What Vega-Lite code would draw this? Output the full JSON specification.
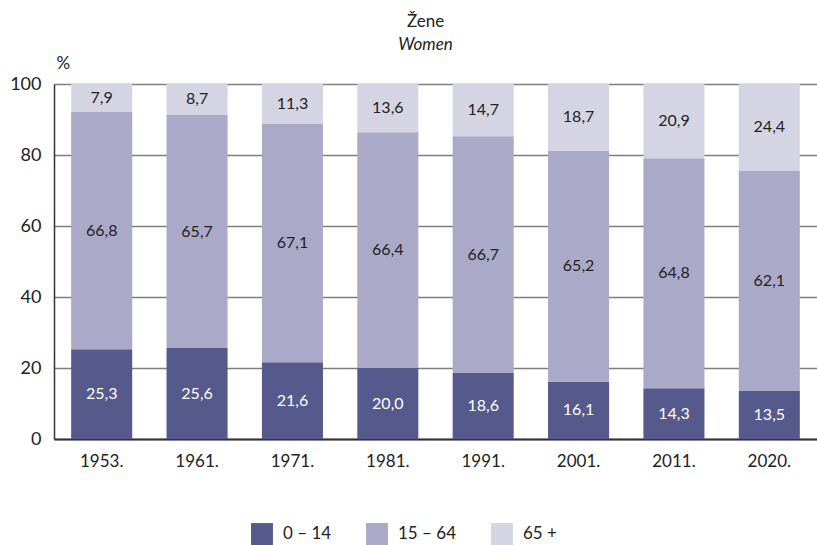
{
  "$schema": "https://vega.github.io/schema/vega-lite/v6.json",
  "autosize": "none",
  "width": 763,
  "height": 355,
  "padding": {"left": 54, "top": 84, "right": 0, "bottom": 106},
  "config": {
    "locale": {"number": {"decimal": ",", "thousands": ".", "grouping": [3], "currency": ["", " €"]}},
    "font": "Lato",
    "view": {"stroke": null}
  },
  "title": {
    "text": "Žene",
    "subtitle": "Women",
    "subtitleFontStyle": "italic",
    "fontSize": 17,
    "fontWeight": "normal",
    "subtitleFontSize": 17,
    "color": "#222",
    "subtitleColor": "#222",
    "subtitlePadding": 6,
    "anchor": "middle",
    "frame": "group",
    "dx": -10,
    "offset": 0
  },
  "data": {
    "values": [
      {"year": "1953.", "group": "0 – 14", "o": 1, "value": 25.3},
      {"year": "1953.", "group": "15 – 64", "o": 2, "value": 66.8},
      {"year": "1953.", "group": "65 +", "o": 3, "value": 7.9},
      {"year": "1961.", "group": "0 – 14", "o": 1, "value": 25.6},
      {"year": "1961.", "group": "15 – 64", "o": 2, "value": 65.7},
      {"year": "1961.", "group": "65 +", "o": 3, "value": 8.7},
      {"year": "1971.", "group": "0 – 14", "o": 1, "value": 21.6},
      {"year": "1971.", "group": "15 – 64", "o": 2, "value": 67.1},
      {"year": "1971.", "group": "65 +", "o": 3, "value": 11.3},
      {"year": "1981.", "group": "0 – 14", "o": 1, "value": 20.0},
      {"year": "1981.", "group": "15 – 64", "o": 2, "value": 66.4},
      {"year": "1981.", "group": "65 +", "o": 3, "value": 13.6},
      {"year": "1991.", "group": "0 – 14", "o": 1, "value": 18.6},
      {"year": "1991.", "group": "15 – 64", "o": 2, "value": 66.7},
      {"year": "1991.", "group": "65 +", "o": 3, "value": 14.7},
      {"year": "2001.", "group": "0 – 14", "o": 1, "value": 16.1},
      {"year": "2001.", "group": "15 – 64", "o": 2, "value": 65.2},
      {"year": "2001.", "group": "65 +", "o": 3, "value": 18.7},
      {"year": "2011.", "group": "0 – 14", "o": 1, "value": 14.3},
      {"year": "2011.", "group": "15 – 64", "o": 2, "value": 64.8},
      {"year": "2011.", "group": "65 +", "o": 3, "value": 20.9},
      {"year": "2020.", "group": "0 – 14", "o": 1, "value": 13.5},
      {"year": "2020.", "group": "15 – 64", "o": 2, "value": 62.1},
      {"year": "2020.", "group": "65 +", "o": 3, "value": 24.4}
    ]
  },
  "encoding": {
    "x": {
      "field": "year",
      "type": "nominal",
      "sort": null,
      "scale": {"paddingInner": 0.36, "paddingOuter": 0.18},
      "axis": {
        "title": null,
        "labelAngle": 0,
        "labelFontSize": 17,
        "labelColor": "#222",
        "labelPadding": 14,
        "ticks": false,
        "domainColor": "#333",
        "domainWidth": 2
      }
    }
  },
  "layer": [
    {
      "mark": {"type": "bar"},
      "encoding": {
        "y": {
          "field": "value",
          "type": "quantitative",
          "stack": "zero",
          "scale": {"domain": [0, 100]},
          "axis": {
            "title": "%",
            "titleAngle": 0,
            "titleFontSize": 17,
            "titleFontWeight": "normal",
            "titleColor": "#222",
            "titleX": 2,
            "titleY": -12,
            "titleAlign": "left",
            "titleBaseline": "bottom",
            "values": [0, 20, 40, 60, 80, 100],
            "labelFontSize": 18,
            "labelColor": "#222",
            "labelPadding": 13,
            "ticks": false,
            "domainColor": "#333",
            "domainWidth": 1.5,
            "gridColor": "#7f7f7f",
            "gridWidth": 1.5
          }
        },
        "color": {
          "field": "group",
          "type": "nominal",
          "scale": {"domain": ["0 – 14", "15 – 64", "65 +"], "range": ["#55598b", "#aba9c8", "#d5d4e3"]},
          "legend": {
            "title": null,
            "orient": "none",
            "direction": "horizontal",
            "legendX": 197,
            "legendY": 439,
            "symbolType": "square",
            "symbolSize": 480,
            "symbolStrokeWidth": 0,
            "symbolOpacity": 1,
            "labelFontSize": 17,
            "labelColor": "#222",
            "labelOffset": 10,
            "columnPadding": 34
          }
        },
        "order": {"field": "o", "type": "quantitative"}
      }
    },
    {
      "transform": [
        {"stack": "value", "groupby": ["year"], "sort": [{"field": "o"}], "as": ["y0", "y1"]},
        {"calculate": "(datum.y0 + datum.y1) / 2", "as": "mid"}
      ],
      "mark": {"type": "text", "fontSize": 16, "baseline": "middle"},
      "encoding": {
        "y": {"field": "mid", "type": "quantitative"},
        "text": {"field": "value", "type": "quantitative", "format": ".1f"},
        "color": {
          "condition": {"test": "datum.o === 1", "value": "#ffffff"},
          "value": "#222222"
        }
      }
    }
  ]
}
